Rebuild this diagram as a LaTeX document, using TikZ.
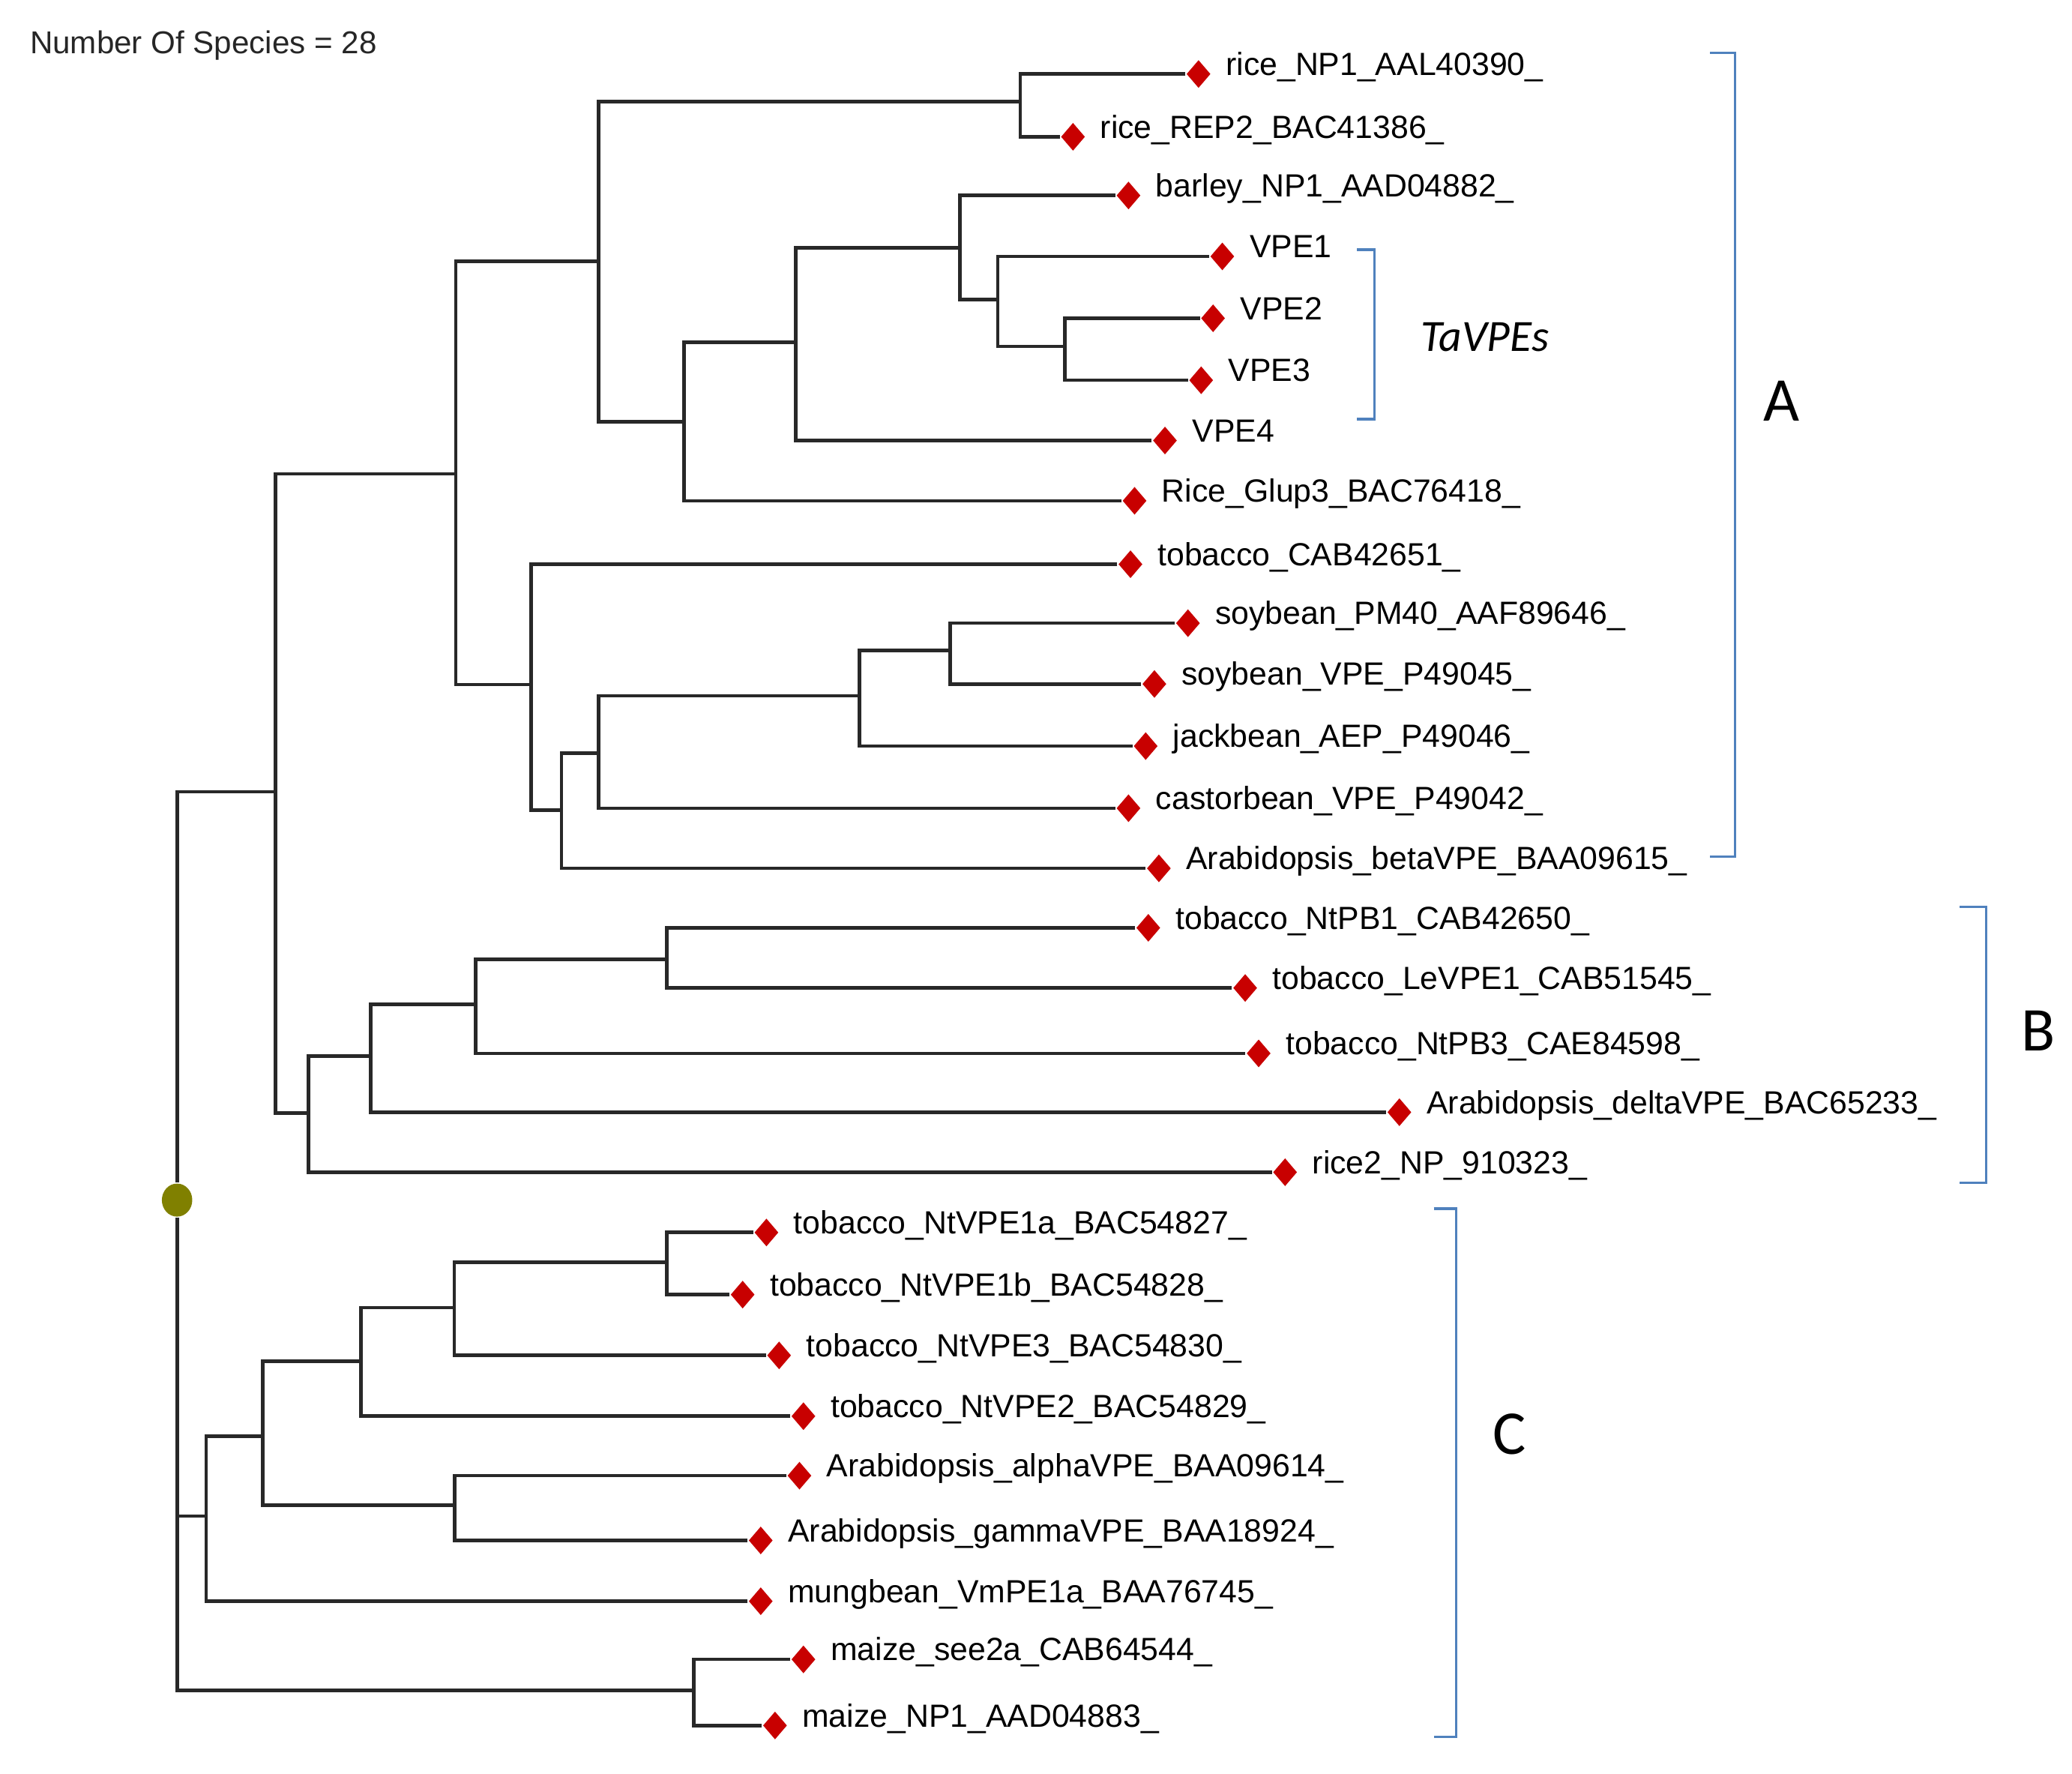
\documentclass[tikz,border=0pt]{standalone}
\usepackage{fontspec}
\setmainfont{Liberation Sans}
\newfontfamily\calfont{Carlito}
\usetikzlibrary{shapes.geometric}
\definecolor{tipred}{RGB}{200,0,0}
\definecolor{rootol}{RGB}{128,128,0}
\definecolor{brblue}{RGB}{79,129,189}
\definecolor{branch}{RGB}{40,40,40}
\newcommand\leafnode[4]{%
  \node[tipd] (#1) at (#2,#3+1.5) {};
  \node[lab] (#1l) at (#2+20,#3+2.5) {#4};}
\begin{document}
\begin{tikzpicture}[x=0.01cm,y=-0.01cm,
  tipd/.style={diamond,fill=tipred,draw=none,inner sep=0pt,minimum width=0.185cm,minimum height=0.215cm},
  lab/.style={anchor=base west,inner sep=0pt,font=\fontsize{6.9}{8}\selectfont},
  br/.style={draw=branch,line width=0.75pt},
  brk/.style={draw=brblue,line width=0.55pt},
  big/.style={anchor=base west,inner sep=0pt,font=\calfont\fontsize{13.4}{15}\selectfont},
  rootdot/.style={ellipse,fill=rootol,draw=none,inner sep=0pt,minimum width=0.23cm,minimum height=0.25cm}]
\useasboundingbox (0,0) rectangle (1568,1342);
\fill[white] (0,0) rectangle (1568,1342);

\node[anchor=base west,inner sep=0pt,text=black!85,font=\fontsize{6.8}{8}\selectfont] (title) at (22,40.5) {Number Of Species = 28};

% leaves
\leafnode{t1}{907}{54.5}{rice\_NP1\_AAL40390\_}
\leafnode{t2}{812}{102}{rice\_REP2\_BAC41386\_}
\leafnode{t3}{854}{146.4}{barley\_NP1\_AAD04882\_}
\leafnode{t4}{925}{192.5}{VPE1}
\leafnode{t5}{918}{239.3}{VPE2}
\leafnode{t6}{909}{286.2}{VPE3}
\leafnode{t7}{881.6}{331.8}{VPE4}
\leafnode{t8}{858.6}{377.4}{Rice\_Glup3\_BAC76418\_}
\leafnode{t9}{855.5}{425.4}{tobacco\_CAB42651\_}
\leafnode{t10}{899}{470}{soybean\_PM40\_AAF89646\_}
\leafnode{t11}{873.6}{516}{soybean\_VPE\_P49045\_}
\leafnode{t12}{867}{563}{jackbean\_AEP\_P49046\_}
\leafnode{t13}{854}{610}{castorbean\_VPE\_P49042\_}
\leafnode{t14}{877}{655.5}{Arabidopsis\_betaVPE\_BAA09615\_}
\leafnode{t15}{869}{700.5}{tobacco\_NtPB1\_CAB42650\_}
\leafnode{t16}{942.3}{746}{tobacco\_LeVPE1\_CAB51545\_}
\leafnode{t17}{952.5}{795.5}{tobacco\_NtPB3\_CAE84598\_}
\leafnode{t18}{1059}{840}{Arabidopsis\_deltaVPE\_BAC65233\_}
\leafnode{t19}{972.5}{885.4}{rice2\_NP\_910323\_}
\leafnode{t20}{580}{931}{tobacco\_NtVPE1a\_BAC54827\_}
\leafnode{t21}{562}{978}{tobacco\_NtVPE1b\_BAC54828\_}
\leafnode{t22}{589.6}{1024}{tobacco\_NtVPE3\_BAC54830\_}
\leafnode{t23}{608}{1070}{tobacco\_NtVPE2\_BAC54829\_}
\leafnode{t24}{605}{1115}{Arabidopsis\_alphaVPE\_BAA09614\_}
\leafnode{t25}{575.7}{1164}{Arabidopsis\_gammaVPE\_BAA18924\_}
\leafnode{t26}{575.7}{1210}{mungbean\_VmPE1a\_BAA76745\_}
\leafnode{t27}{608}{1254}{maize\_see2a\_CAB64544\_}
\leafnode{t28}{586.5}{1304}{maize\_NP1\_AAD04883\_}

% internal nodes
\coordinate (n208) at (208.5,599);
\coordinate (n345) at (345,358.5);
\coordinate (n453) at (453,197.6);
\coordinate (nrice) at (772,77);
\coordinate (n517) at (517.6,319);
\coordinate (n602) at (602,259);
\coordinate (nbv) at (726.5,187.4);
\coordinate (n755) at (755,226.7);
\coordinate (n806) at (806,262);
\coordinate (n402) at (402,518);
\coordinate (n425) at (425,613);
\coordinate (n453b) at (453,570);
\coordinate (n651) at (650.5,526.5);
\coordinate (n719) at (719,492);
\coordinate (n233) at (233.4,842);
\coordinate (n280) at (280.5,799);
\coordinate (n360) at (360,760);
\coordinate (n505) at (504.7,726);
\coordinate (n156) at (156,1147);
\coordinate (n199) at (199,1086.5);
\coordinate (n273) at (273,1030);
\coordinate (n344) at (343.7,989.4);
\coordinate (n505c) at (504.7,955);
\coordinate (n344c) at (344,1139);
\coordinate (nmaize) at (525,1279);

% branches (horizontal ends meet the diamonds' left corners)
\draw[br] (t1.west) -| (nrice) |- (t2.west);
\draw[br] (t5.west) -| (n806) |- (t6.west);
\draw[br] (t4.west) -| (n755) |- (n806);
\draw[br] (t3.west) -| (nbv) |- (n755);
\draw[br] (nbv) -| (n602) |- (t7.west);
\draw[br] (n602) -| (n517) |- (t8.west);
\draw[br] (nrice) -| (n453) |- (n517);
\draw[br] (t10.west) -| (n719) |- (t11.west);
\draw[br] (n719) -| (n651) |- (t12.west);
\draw[br] (n651) -| (n453b) |- (t13.west);
\draw[br] (n453b) -| (n425) |- (t14.west);
\draw[br] (t9.west) -| (n402) |- (n425);
\draw[br] (n453) -| (n345) |- (n402);
\draw[br] (t15.west) -| (n505) |- (t16.west);
\draw[br] (n505) -| (n360) |- (t17.west);
\draw[br] (n360) -| (n280) |- (t18.west);
\draw[br] (n280) -| (n233) |- (t19.west);
\draw[br] (n345) -| (n208) |- (n233);
\draw[br] (t20.west) -| (n505c) |- (t21.west);
\draw[br] (n505c) -| (n344) |- (t22.west);
\draw[br] (n344) -| (n273) |- (t23.west);
\draw[br] (t24.west) -| (n344c) |- (t25.west);
\draw[br] (n273) -| (n199) |- (n344c);
\draw[br] (n199) -| (n156) |- (t26.west);
\draw[br] (t27.west) -| (nmaize) |- (t28.west);

\node[rootdot] (root) at (134,908) {};
\draw[br] (n208) -| (root);
\draw[br] (root) |- (nmaize);
\draw[br] (root) |- (n156);

% brackets
\coordinate (aT) at (1294,40);
\coordinate (aB) at (1294,648);
\draw[brk] (aT) -- ++(19,0) |- (aB);
\coordinate (bT) at (1483,686);
\coordinate (bB) at (1483,895);
\draw[brk] (bT) -- ++(20,0) |- (bB);
\coordinate (cT) at (1085,914.5);
\coordinate (cB) at (1085,1314);
\draw[brk] (cT) -- ++(17,0) |- (cB);
\coordinate (vT) at (1027,189);
\coordinate (vB) at (1027,317);
\draw[brk] (vT) -- ++(13,0) |- (vB);

\node[big] (labA) at (1334,318.6) {A};
\node[big] (labB) at (1529,795) {B};
\node[big] (labC) at (1129,1100) {C};
\node[anchor=base west,inner sep=0pt,font=\calfont\itshape\fontsize{9.6}{11}\selectfont] (tav) at (1074.6,265.7) {TaVPEs};
\end{tikzpicture}
\end{document}
